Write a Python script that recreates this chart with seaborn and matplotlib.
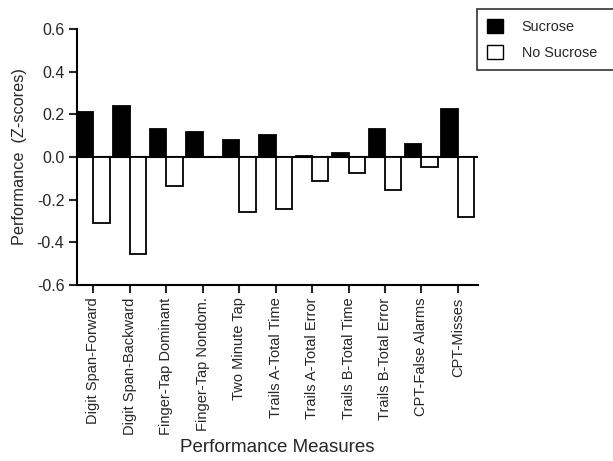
import pandas as pd
import seaborn as sns
import matplotlib.pyplot as plt
from matplotlib.patches import Patch

# Data
measures = ['Digit Span-Forward', 'Digit Span-Backward', 'Finger-Tap Dominant',
            'Finger-Tap Nondom.', 'Two Minute Tap', 'Trails A-Total Time',
            'Trails A-Total Error', 'Trails B-Total Time', 'Trails B-Total Error',
            'CPT-False Alarms', 'CPT-Misses']
sucrose = [0.21, 0.24, 0.13, 0.115, 0.08, 0.105, 0.005, 0.02, 0.13, 0.06, 0.225]
no_sucrose = [-0.31, -0.455, -0.135, 0.0, -0.26, -0.245, -0.115, -0.075, -0.155, -0.045, -0.28]
groups = ['Sucrose', 'No Sucrose']
yticks = [-0.6, -0.4, -0.2, 0.0, 0.2, 0.4, 0.6]

df = pd.DataFrame({
    'measure': measures * 2,
    'group': [groups[0]] * len(measures) + [groups[1]] * len(measures),
    'score': sucrose + no_sucrose,
})

sns.set_style('ticks')
plt.rcParams['font.family'] = ['Liberation Sans', 'DejaVu Sans']
plt.rcParams['axes.unicode_minus'] = False

fig = plt.figure(figsize=(6.13, 4.61), dpi=100)
ax = fig.add_axes([0.1256, 0.382, 0.654, 0.555])

sns.barplot(data=df, x='measure', y='score', hue='group', hue_order=groups,
            palette={'Sucrose': 'black', 'No Sucrose': 'white'},
            edgecolor='black', linewidth=1.3, width=0.9, gap=0,
            legend=False, ax=ax)

ax.axhline(0, color='black', lw=1.5, zorder=0)

ax.set_ylim(-0.6, 0.6)
ax.set_xlim(-0.45, len(measures) - 0.45)
ax.set_yticks(yticks)
ax.set_yticklabels([f'{v:.1f}' for v in yticks], fontsize=11.5)
ax.set_xticks(range(len(measures)))
ax.set_xticklabels(measures, rotation=90, fontsize=10.5)

ax.tick_params(axis='y', direction='out', length=6, width=1.5, pad=3)
ax.tick_params(axis='x', direction='out', length=6, width=1.5, pad=3)

for side in ['top', 'right']:
    ax.spines[side].set_visible(False)
for side in ['left', 'bottom']:
    ax.spines[side].set_linewidth(1.5)
    ax.spines[side].set_color('black')

ax.set_ylabel('Performance  (Z-scores)', fontsize=11.7, labelpad=7)
ax.set_xlabel('Performance Measures', fontsize=13.5, labelpad=3)

handles = [Patch(facecolor='black', edgecolor='black', label='Sucrose'),
           Patch(facecolor='white', edgecolor='black', label='No Sucrose')]
leg = fig.legend(handles=handles, loc='upper left',
                 bbox_to_anchor=(0.778, 0.5, 0.3, 0.48), mode='expand',
                 fontsize=10.4, frameon=True, fancybox=False,
                 handlelength=1.1, handleheight=1.1, handletextpad=1.3,
                 labelspacing=0.75, borderpad=0.7, borderaxespad=0)
leg.get_frame().set_edgecolor('black')
leg.get_frame().set_linewidth(1.2)

fig.savefig('out.png', dpi=100)
